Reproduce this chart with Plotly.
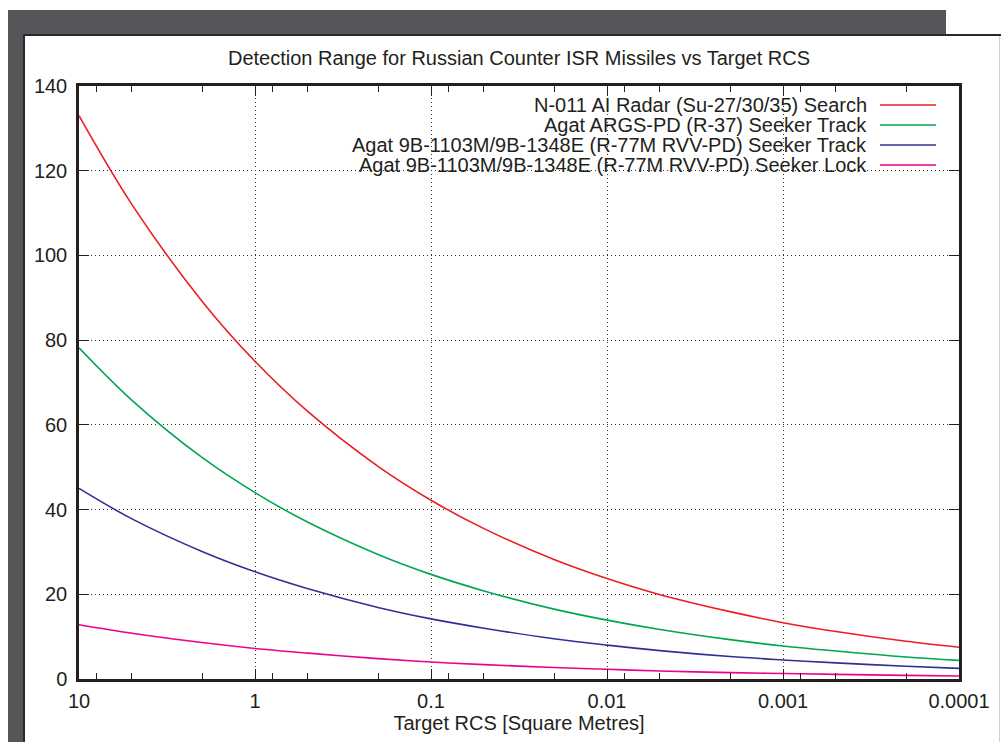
import plotly.graph_objects as go

# ---------------- data ----------------
rcs = [10, 5, 2, 1, 0.5, 0.2, 0.1, 0.05, 0.02, 0.01, 0.005, 0.002, 0.001, 0.0005, 0.0002, 0.0001]
n011_search = [133.0, 112.0, 89.2, 75.0, 63.1, 50.2, 42.2, 35.5, 28.2, 23.7, 19.9, 15.9, 13.3, 11.2, 8.9, 7.5]
r37_track = [78.2, 65.8, 52.3, 44.0, 37.0, 29.4, 24.7, 20.8, 16.5, 13.9, 11.7, 9.3, 7.8, 6.6, 5.2, 4.4]
r77m_track = [45.0, 37.8, 30.1, 25.3, 21.3, 16.9, 14.2, 12.0, 9.5, 8.0, 6.7, 5.3, 4.5, 3.8, 3.0, 2.5]
r77m_lock = [12.8, 10.8, 8.6, 7.2, 6.1, 4.8, 4.0, 3.4, 2.7, 2.3, 1.9, 1.5, 1.3, 1.1, 0.86, 0.72]

series_names = [
    "N-011 AI Radar (Su-27/30/35) Search",
    "Agat ARGS-PD (R-37) Seeker Track",
    "Agat 9B-1103M/9B-1348E (R-77M RVV-PD) Seeker Track",
    "Agat 9B-1103M/9B-1348E (R-77M RVV-PD) Seeker Lock",
]
series_values = [n011_search, r37_track, r77m_track, r77m_lock]
series_colors = ["#ED1C24", "#00A651", "#2E3192", "#EC008C"]

x_tickvals = [10, 1, 0.1, 0.01, 0.001, 0.0001]
x_ticktext = ["10", "1", "0.1", "0.01", "0.001", "0.0001"]
x_minorvals = [8, 5, 2, 0.8, 0.5, 0.2, 0.08, 0.05, 0.02, 0.008, 0.005, 0.002,
               0.0008, 0.0005, 0.0002]
y_tickvals = [0, 20, 40, 60, 80, 100, 120, 140]

title_text = "Detection Range for Russian Counter ISR Missiles vs Target RCS"
x_title = "Target RCS [Square Metres]"
y_max = 140

# ---------------- layout geometry (pixels) ----------------
W, H = 1001, 742
PL, PR, PT, PB = 79, 959, 86, 679  # plot area edges
FONT = "Liberation Sans, Arial, Helvetica, sans-serif"
TXT = "#231F20"
FS = 20


def px(x):
    return (x - PL) / (PR - PL)


def py(y):
    return (PB - y) / (PB - PT)


fig = go.Figure()
for name, vals, col in zip(series_names, series_values, series_colors):
    fig.add_trace(go.Scatter(
        x=rcs, y=vals, mode="lines", name=name, showlegend=False,
        line=dict(color=col, width=1.6, shape="spline", smoothing=1.0),
    ))

shapes = []
# page frame (gray backdrop, dark border, white panel, light right edge)
shapes.append(dict(type="rect", xref="paper", yref="paper", layer="below",
                   x0=px(8), x1=px(946), y0=py(760), y1=py(10),
                   fillcolor="#55565A", line=dict(width=0)))
shapes.append(dict(type="rect", xref="paper", yref="paper", layer="below",
                   x0=px(23), x1=px(1010), y0=py(760), y1=py(34),
                   fillcolor="#2A2A2C", line=dict(width=0)))
shapes.append(dict(type="rect", xref="paper", yref="paper", layer="below",
                   x0=px(25), x1=px(1010), y0=py(760), y1=py(36),
                   fillcolor="#FFFFFF", line=dict(width=0)))
shapes.append(dict(type="rect", xref="paper", yref="paper", layer="below",
                   x0=px(999), x1=px(1000), y0=py(760), y1=py(36),
                   fillcolor="#D0D0D0", line=dict(width=0)))
# opaque key box hiding the grid
shapes.append(dict(type="rect", xref="paper", yref="paper", layer="between",
                   x0=px(275), x1=1, y0=py(177), y1=1,
                   fillcolor="#FFFFFF", line=dict(width=0)))

annotations = []
key_rows = [105, 125, 145, 165]
for name, col, yy in zip(series_names, series_colors, key_rows):
    annotations.append(dict(
        xref="paper", yref="paper", x=px(869), y=py(yy), xanchor="right",
        yanchor="middle", text=name, showarrow=False,
        font=dict(family=FONT, size=FS, color=TXT)))
    shapes.append(dict(type="line", xref="paper", yref="paper", layer="above",
                       x0=px(880), x1=px(936), y0=py(yy), y1=py(yy),
                       line=dict(color=col, width=1.6)))

axis_common = dict(
    showline=True, linecolor=TXT, linewidth=2.5, mirror="allticks",
    ticks="inside", ticklen=10, tickwidth=1.3, tickcolor=TXT,
    showgrid=True, gridcolor="#333333", gridwidth=1, griddash="1px,3px",
    zeroline=False,
    tickfont=dict(family=FONT, size=FS, color=TXT),
)

fig.update_layout(
    width=W, height=H,
    margin=dict(l=PL, r=W - PR, t=PT, b=H - PB, autoexpand=False),
    paper_bgcolor="#FFFFFF", plot_bgcolor="rgba(0,0,0,0)",
    font=dict(family=FONT, size=FS, color=TXT),
    title=dict(text=title_text, x=0.5, xref="paper", xanchor="center",
               y=1 - 58 / H, yref="container", yanchor="middle",
               font=dict(family=FONT, size=FS, color=TXT)),
    xaxis=dict(
        type="log", range=[1, -4], tickmode="array",
        tickvals=x_tickvals, ticktext=x_ticktext, ticklabelstandoff=2,
        minor=dict(tickmode="array", tickvals=x_minorvals, ticks="inside",
                   ticklen=6, tickwidth=1.3, tickcolor=TXT, showgrid=False),
        title=dict(text=x_title, standoff=4,
                   font=dict(family=FONT, size=FS, color=TXT)),
        **axis_common,
    ),
    yaxis=dict(
        range=[0, y_max], tickmode="array", tickvals=y_tickvals,
        ticklabelstandoff=5,
        **axis_common,
    ),
    shapes=shapes,
    annotations=annotations,
    showlegend=False,
)

fig.write_html("out.html", config={"displayModeBar": False},
               post_script="document.body.style.margin='0';document.body.style.overflow='hidden';")
